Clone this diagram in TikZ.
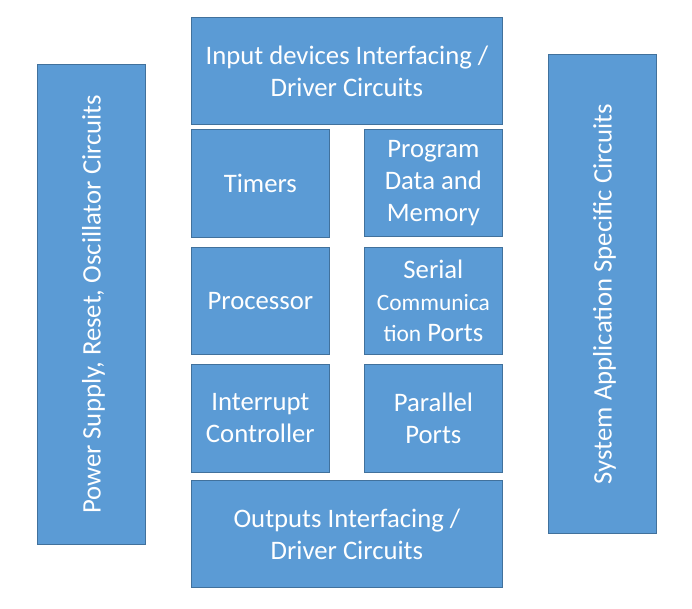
\documentclass[tikz,border=0pt]{standalone}
\usepackage{fontspec}
\setmainfont{Carlito}
\begin{document}
\begin{tikzpicture}[x=1bp,y=-1bp,
  blk/.style={draw=boxedge, fill=boxfill, line width=0.8bp, text=white, align=center,
    inner sep=0pt, anchor=north west, font=\fontsize{26.8}{32}\selectfont},
]
\definecolor{boxfill}{HTML}{5B9BD5}
\definecolor{boxedge}{HTML}{41719C}
\useasboundingbox (0,0) rectangle (692,609);
\node[blk, minimum width=311bp, minimum height=107bp] (inp) at (191,17) {Input devices Interfacing /\\Driver Circuits};
\node[blk, minimum width=138bp, minimum height=108bp] (tim) at (191,129) {Timers};
\node[blk, minimum width=138bp, minimum height=107bp] (prog) at (364,129) {Program\\Data and\\Memory};
\node[blk, minimum width=138bp, minimum height=107bp] (proc) at (191,247) {Processor};
\node[blk, minimum width=138bp, minimum height=107bp] (ser) at (364,247) {Serial\\{\fontsize{23.5}{31.5}\selectfont Communica}\\{\fontsize{23.5}{31.5}\selectfont tion} Ports};
\node[blk, minimum width=138bp, minimum height=108bp] (intr) at (191,364) {Interrupt\\Controller};
\node[blk, minimum width=138bp, minimum height=108bp] (par) at (364,364) {Parallel\\Ports};
\node[blk, minimum width=311bp, minimum height=107bp] (out) at (191,480) {Outputs Interfacing /\\Driver Circuits};
\node[draw=boxedge, fill=boxfill, line width=0.8bp, anchor=north west, minimum width=108bp, minimum height=480bp, inner sep=0pt] (pwr) at (37,64) {};
\node[text=white, rotate=90, font=\fontsize{26.8}{31.5}\selectfont] (pwrt) at ([xshift=2bp]pwr.center) {Power Supply, Reset, Oscillator Circuits};
\node[draw=boxedge, fill=boxfill, line width=0.8bp, anchor=north west, minimum width=108bp, minimum height=479bp, inner sep=0pt] (sys) at (548,54) {};
\node[text=white, rotate=90, font=\fontsize{26.8}{31.5}\selectfont] (syst) at ([xshift=2bp]sys.center) {System Application Specific Circuits};
\end{tikzpicture}
\end{document}
